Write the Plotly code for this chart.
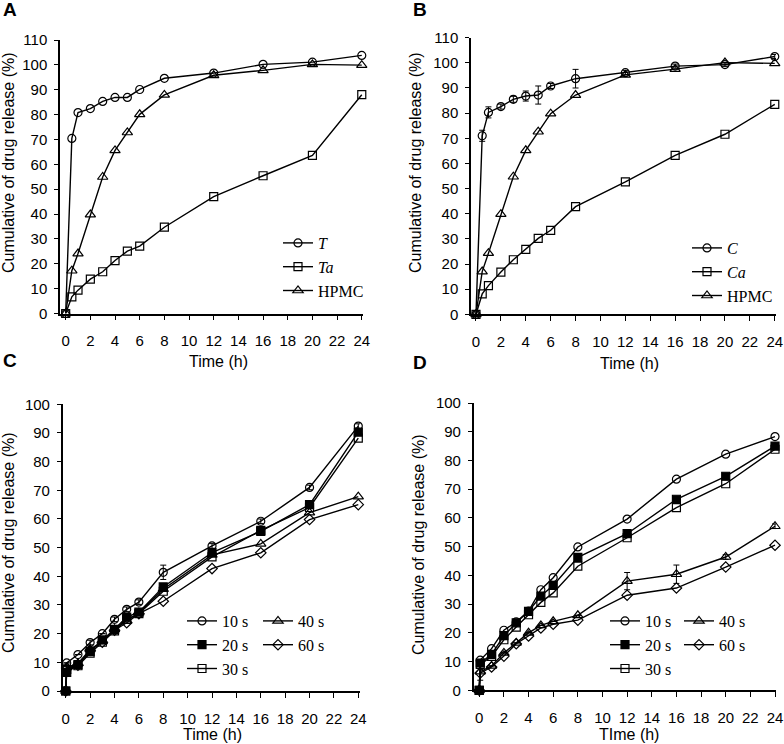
import plotly.graph_objects as go

W, H = 784, 744

# ---------------- data ----------------
time_ab = [0, 0.5, 1, 2, 3, 4, 5, 6, 8, 12, 16, 20, 24]
a_T = [0, 70.4, 80.8, 82.4, 85.3, 86.9, 86.9, 90.1, 94.6, 96.7, 100.2, 101.1, 103.8]
a_Ta = [0, 6.7, 9.4, 13.8, 16.8, 21.3, 25.1, 27.1, 34.7, 47.0, 55.4, 63.6, 88.0]
a_HPMC = [0, 17.2, 24.1, 39.8, 54.9, 65.6, 72.8, 80.1, 87.9, 95.8, 97.8, 100.2, 99.9]

b_C = [0, 71.0, 80.3, 82.6, 85.5, 86.8, 87.2, 90.8, 93.7, 96.1, 98.7, 99.3, 102.5]
b_C_err = [0, 2.2, 2.2, 1.0, 1.2, 2.0, 3.6, 1.0, 3.7, 0.8, 0.8, 0.8, 0.8]
b_Ca = [0, 8.1, 11.4, 16.8, 21.7, 25.8, 30.2, 33.4, 42.8, 52.7, 63.2, 71.6, 83.5]
b_HPMC = [0, 17.0, 24.3, 39.8, 54.7, 65.2, 72.6, 79.8, 87.2, 95.2, 97.5, 100.1, 99.8]

time_cd = [0, 0.08, 1, 2, 3, 4, 5, 6, 8, 12, 16, 20, 24]
c_10 = [0, 9.8, 12.7, 16.9, 20.0, 25.0, 28.5, 31.0, 41.4, 50.6, 59.2, 71.0, 92.4]
c_10_err = [0, 0, 0, 0.8, 0, 0.8, 0.8, 0.8, 2.5, 0.8, 0.8, 0.8, 0.8]
c_20 = [0, 6.5, 9.2, 13.8, 17.8, 21.5, 25.8, 27.5, 36.3, 48.3, 55.7, 65.0, 90.3]
c_30 = [0, 7.5, 8.8, 13.2, 17.0, 21.0, 25.0, 27.0, 34.8, 46.8, 56.0, 64.0, 88.2]
c_40 = [0, 8.2, 9.6, 14.5, 17.3, 21.5, 24.5, 27.3, 35.5, 47.5, 51.3, 62.2, 67.8]
c_60 = [0, 8.0, 9.0, 14.2, 17.0, 21.2, 23.8, 27.0, 31.3, 42.7, 48.2, 59.8, 65.0]

d_10 = [0, 10.5, 14.5, 20.9, 23.8, 27.6, 35.0, 39.2, 49.9, 59.6, 73.5, 82.2, 88.3]
d_20 = [0, 9.5, 12.5, 19.0, 23.5, 27.5, 32.8, 36.5, 46.3, 54.5, 66.5, 74.5, 85.0]
d_30 = [0, 9.0, 11.8, 17.6, 22.0, 26.3, 30.6, 33.9, 43.2, 53.1, 63.6, 71.9, 83.9]
d_40 = [0, 6.5, 8.5, 13.0, 16.5, 20.0, 22.6, 24.0, 26.1, 38.0, 40.4, 46.4, 57.1]
d_40_err = [0, 3.0, 0, 0, 0, 0, 0, 0, 0, 3.0, 3.2, 0.8, 0.8]
d_60 = [0, 6.0, 8.1, 11.9, 16.2, 18.9, 21.7, 23.0, 24.4, 33.1, 35.6, 42.9, 50.5]

x_ticks = list(range(0, 25, 2))
y_ticks_ab = list(range(0, 111, 10))
y_ticks_cd = list(range(0, 101, 10))

# ---------------- helpers ----------------
def px(x):
    return x / W


def py(y):
    return 1 - y / H


SERIF = "Liberation Serif, Times New Roman, serif"
SANS = "Liberation Sans, Arial, sans-serif"

fig = go.Figure()


def add(x, y, name, symbol, xa, ya, legend, err=None, size=8):
    tr = go.Scatter(
        x=x, y=y, name=name, mode="lines+markers",
        xaxis=xa, yaxis=ya, legend=legend, cliponaxis=False,
        line=dict(color="black", width=1.4),
        marker=dict(symbol=symbol, size=size,
                    color="black",
                    line=dict(color="black", width=1.2)),
    )
    if err is not None:
        tr.error_y = dict(type="data", array=err, visible=True,
                          color="black", thickness=1, width=3)
    fig.add_trace(tr)


# Panel A
add(time_ab, a_T, "<i>T</i>", "circle-open", "x", "y", "legend", size=8)
add(time_ab, a_Ta, "<i>Ta</i>", "square-open", "x", "y", "legend", size=8)
add(time_ab, a_HPMC, "HPMC", "triangle-up-open", "x", "y", "legend", size=9)
# Panel B
add(time_ab, b_C, "<i>C</i>", "circle-open", "x2", "y2", "legend2", err=b_C_err, size=8)
add(time_ab, b_Ca, "<i>Ca</i>", "square-open", "x2", "y2", "legend2", size=8)
add(time_ab, b_HPMC, "HPMC", "triangle-up-open", "x2", "y2", "legend2", size=9)
# Panel C
add(time_cd, c_10, "10 s", "circle-open", "x3", "y3", "legend3", err=c_10_err, size=8)
add(time_cd, c_20, "20 s", "square", "x3", "y3", "legend3", size=8)
add(time_cd, c_30, "30 s", "square-open", "x3", "y3", "legend3", size=8)
add(time_cd, c_40, "40 s", "triangle-up-open", "x3", "y3", "legend4", size=9)
add(time_cd, c_60, "60 s", "diamond-open", "x3", "y3", "legend4", size=8)
# Panel D
add(time_cd, d_10, "10 s", "circle-open", "x4", "y4", "legend5", size=8)
add(time_cd, d_20, "20 s", "square", "x4", "y4", "legend5", size=8)
add(time_cd, d_30, "30 s", "square-open", "x4", "y4", "legend5", size=8)
add(time_cd, d_40, "40 s", "triangle-up-open", "x4", "y4", "legend6", err=d_40_err, size=9)
add(time_cd, d_60, "60 s", "diamond-open", "x4", "y4", "legend6", size=8)

axis_common = dict(
    showline=True, linecolor="black", linewidth=1.5, mirror=False,
    showgrid=False, zeroline=False, ticks="outside", ticklen=5,
    tickwidth=1.3, tickcolor="black", automargin=False,
    ticklabeloverflow="allow",
    tickfont=dict(family=SANS, size=15, color="black"),
)


def xaxis(dom, rng, anchor):
    return dict(axis_common, domain=dom, range=rng, anchor=anchor,
                tickmode="array", tickvals=x_ticks, ticklabelstandoff=8)


def yaxis(dom, rng, anchor, ticks):
    return dict(axis_common, domain=dom, range=rng, anchor=anchor,
                tickmode="array", tickvals=ticks, ticklen=4,
                ticklabelstandoff=4)


# pixel geometry of the four plot areas
A = dict(x0=60, x1=363, y0=40, y1=313.5)
B = dict(x0=471, x1=776, y0=37.7, y1=314.3)
C = dict(x0=62.7, x1=360, y0=404.3, y1=691)
D = dict(x0=473.7, x1=776, y0=403, y1=690.3)


def xd(p):
    return [px(p["x0"]), px(p["x1"])]


def yd(p):
    return [py(p["y1"]), py(p["y0"])]


legend_common = dict(
    bgcolor="rgba(0,0,0,0)", borderwidth=0,
    font=dict(family=SERIF, size=16, color="black"),
    xanchor="left", yanchor="top", tracegroupgap=0, itemwidth=30,
)


def leg(mx, my):
    # mx,my: pixel centre of first legend marker
    return dict(legend_common, x=px(mx - 20), y=py(my - 16))


annotations = []


def ann(text, x, y, size=16, angle=0, bold=False, family=SANS):
    annotations.append(dict(
        text=f"<b>{text}</b>" if bold else text,
        x=px(x), y=py(y), xref="paper", yref="paper",
        xanchor="center", yanchor="middle", showarrow=False,
        textangle=angle, font=dict(family=family, size=size, color="black")))


ann("A", 10, 10, size=19, bold=True)
ann("B", 420, 10, size=19, bold=True)
ann("C", 10, 360, size=19, bold=True)
ann("D", 420, 362, size=19, bold=True)

ylab = "Cumulative of drug release (%)"
ann(ylab, 8, 163, angle=-90)
ann(ylab, 415, 163, angle=-90)
ann(ylab, 8, 543, angle=-90)
ann(ylab, 418, 545, angle=-90)
ann("Time (h)", 218, 361)
ann("Time (h)", 629, 363)
ann("Time (h)", 212, 734)
ann("TIme (h)", 629, 734)

fig.update_layout(
    width=W, height=H,
    margin=dict(l=0, r=0, t=0, b=0, autoexpand=False),
    paper_bgcolor="white", plot_bgcolor="white",
    showlegend=True,
    xaxis=xaxis(xd(A), [-0.46, 24.1], "y"),
    yaxis=yaxis(yd(A), [0, 110], "x", y_ticks_ab),
    xaxis2=xaxis(xd(B), [-0.4, 24.1], "y2"),
    yaxis2=yaxis(yd(B), [0, 110], "x2", y_ticks_ab),
    xaxis3=xaxis(xd(C), [-0.25, 24.14], "y3"),
    yaxis3=yaxis(yd(C), [0, 100], "x3", y_ticks_cd),
    xaxis4=xaxis(xd(D), [-0.45, 24.08], "y4"),
    yaxis4=yaxis(yd(D), [0, 100], "x4", y_ticks_cd),
    legend=leg(298, 242),
    legend2=leg(707, 247),
    legend3=leg(202, 620),
    legend4=leg(278, 620),
    legend5=leg(625, 620),
    legend6=leg(699, 620),
    annotations=annotations,
)

# remove the browser's default 8px page margin so the figure fills the window
fig.write_html(
    "out.html",
    config={"displayModeBar": False},
    post_script="document.body.style.margin='0';document.body.style.overflow='hidden';",
)
